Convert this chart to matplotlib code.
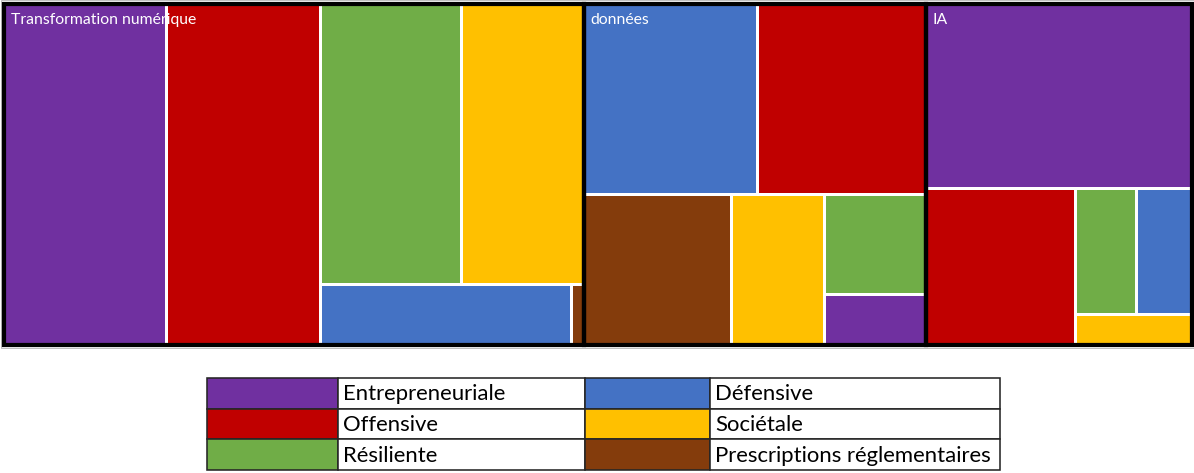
import matplotlib
matplotlib.use("Agg")
import matplotlib.pyplot as plt
from matplotlib.patches import Rectangle

# ---------------- data ----------------
groups = ["Transformation numérique", "données", "IA"]
categories = ["Entrepreneuriale", "Offensive", "Résiliente",
              "Défensive", "Sociétale", "Prescriptions réglementaires"]
cat_colors = ["#7030A0", "#C00000", "#70AD47", "#4472C4", "#FFC000", "#843C0C"]

vals_transformation = [55.4, 52.2, 39.7, 15.4, 34.2, 0.8]
vals_donnees = [5.2, 31.9, 10.2, 32.9, 14.1, 22.3]
vals_ia = [49.1, 23.4, 7.7, 7.0, 3.6, 0.0]
group_values = [vals_transformation, vals_donnees, vals_ia]

legend_left = ["Entrepreneuriale", "Offensive", "Résiliente"]
legend_right = ["Défensive", "Sociétale", "Prescriptions réglementaires"]

# ---------------- layout (squarified, tall shapes tolerated a bit more) ----------------
K_TALL = 1.7


def cost(w, h):
    return max(w / h, h / (K_TALL * w))


def squarify(values, x, y, w, h):
    """values: list of (value, key). returns dict key -> (x, y, w, h); y grows downward."""
    items = sorted([it for it in values if it[0] > 0], key=lambda t: -t[0])
    scale = w * h / sum(v for v, _ in items)
    out = {}
    rest = items
    while rest:
        if len(rest) == 1:
            out[rest[0][1]] = (x, y, w, h)
            break
        wide = w > h * 1.02
        side = h if wide else w

        def worst(row):
            thick = sum(v for v, _ in row) * scale / side
            res = []
            for v, _ in row:
                length = v * scale / thick
                res.append(cost(thick, length) if wide else cost(length, thick))
            return max(res)

        row = [rest[0]]
        while len(row) < len(rest) and worst(row + [rest[len(row)]]) <= worst(row):
            row.append(rest[len(row)])
        thick = sum(v for v, _ in row) * scale / side
        pos = 0.0
        for v, key in row:
            length = v * scale / thick
            if wide:
                out[key] = (x, y + pos, thick, length)
            else:
                out[key] = (x + pos, y, length, thick)
            pos += length
        if wide:
            x += thick
            w -= thick
        else:
            y += thick
            h -= thick
        rest = rest[len(row):]
    return out


# ---------------- figure ----------------
fig = plt.figure(figsize=(11.94, 4.73), dpi=100)
ax = fig.add_axes([0, 0, 1, 1])
ax.set_xlim(0, 1194)
ax.set_ylim(473, 0)
ax.axis("off")

PX = 0.72  # points per pixel
X0, Y0, X1, Y1 = 4.0, 4.0, 1192.0, 345.0

group_rects = squarify([(sum(v), g) for g, v in zip(groups, group_values)],
                       X0, Y0, X1 - X0, Y1 - Y0)

# faint outer frame
ax.add_patch(Rectangle((0.5, 0.5), 1193, 347, fill=False, ec="#bfbfbf", lw=1 * PX, zorder=1))

for g, vals in zip(groups, group_values):
    gx, gy, gw, gh = group_rects[g]
    rects = squarify(list(zip(vals, categories)), gx, gy, gw, gh)
    for cat, (rx, ry, rw, rh) in rects.items():
        col = cat_colors[categories.index(cat)]
        ax.add_patch(Rectangle((rx, ry), rw, rh, fc=col, ec="white", lw=3 * PX, zorder=2))
for g in groups:
    gx, gy, gw, gh = group_rects[g]
    ax.add_patch(Rectangle((gx, gy), gw, gh, fill=False, ec="black", lw=4.2 * PX, zorder=3))
    ax.text(gx + 7, gy + 9, g, color="white", fontsize=11.3, family=["Lato", "DejaVu Sans"],
            va="top", ha="left", zorder=4)

# ---------------- legend table ----------------
col_x = [207, 338, 585, 710, 1000]
row_y = [378, 408.7, 439.3, 470]
for r in range(3):
    for side, names in ((0, legend_left), (2, legend_right)):
        name = names[r]
        col = cat_colors[categories.index(name)]
        ax.add_patch(Rectangle((col_x[side], row_y[r]), col_x[side + 1] - col_x[side],
                               row_y[r + 1] - row_y[r], fc=col, ec="#262626", lw=1.6 * PX, zorder=2))
        ax.add_patch(Rectangle((col_x[side + 1], row_y[r]), col_x[side + 2] - col_x[side + 1],
                               row_y[r + 1] - row_y[r], fc="white", ec="#262626", lw=1.6 * PX, zorder=2))
        ax.text(col_x[side + 1] + 5, (row_y[r] + row_y[r + 1]) / 2 + 1, name, fontsize=15.9,
                family=["Lato", "DejaVu Sans"], va="center", ha="left", color="black", zorder=3)

fig.savefig("out.png", dpi=100)
